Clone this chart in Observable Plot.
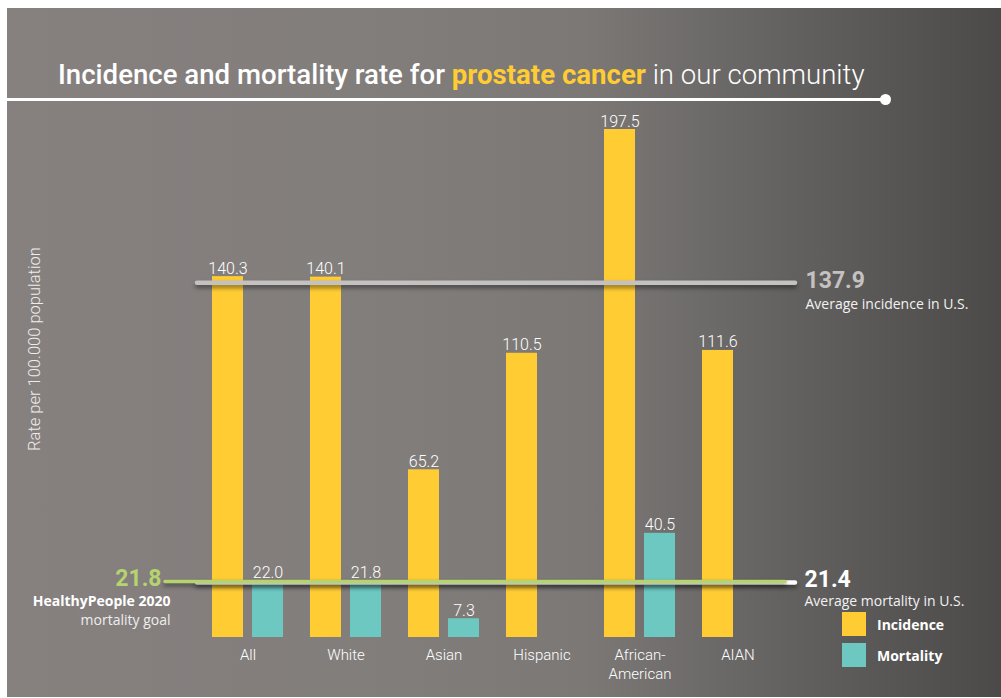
<!DOCTYPE html>
<html>
<head>
<meta charset="utf-8">
<script src="https://cdn.jsdelivr.net/npm/d3@7"></script>
<script src="https://cdn.jsdelivr.net/npm/@observablehq/plot@0.6"></script>
<style>
  html, body { margin: 0; padding: 0; background: #fff; }
  #root { position: relative; width: 1001px; height: 698px; overflow: hidden; background: #fff; font-family: Roboto, sans-serif; }
  #panel { position: absolute; left: 7px; top: 8px; width: 994px; height: 689px;
    background: linear-gradient(to right, #86807f 0%, #827e7c 35%, #7b7876 58%, #4b4a49 100%); }
  #title { position: absolute; left: 58px; top: 61px; font-size: 27.6px; line-height: 27px; color: #fff; white-space: nowrap; }
  #title .a { font-weight: 500; }
  #title .b { font-weight: 700; color: #FFCC33; }
  #title .c { font-weight: 300; }
  #underline { position: absolute; left: 7px; top: 98px; width: 878px; height: 2.5px; background: #fff; }
  #dot { position: absolute; left: 880px; top: 94px; width: 11px; height: 11px; border-radius: 50%; background: #fff; }
  #ylabel { position: absolute; left: 34px; top: 349px; transform: translate(-50%, -50%) rotate(-90deg);
    font-family: Roboto, sans-serif; font-weight: 300; font-size: 16.5px; color: #eeeceb; white-space: nowrap; }
  .plot { position: absolute; left: 0; top: 0; }
  #refs g[aria-label="rule"] { filter: drop-shadow(0px 3px 2px rgba(0,0,0,0.45)); }
  #legend { position: absolute; left: 842px; top: 612px; font-family: "Open Sans", sans-serif; font-weight: 700; font-size: 14px; color: #fff; }
  #legend .item { display: flex; align-items: center; height: 24px; margin-bottom: 7px; }
  #legend .sw { width: 24px; height: 24px; margin-right: 11px; }
</style>
</head>
<body>
<div id="root">
  <div id="panel"></div>
  <div id="title"><span class="a">Incidence and mortality rate for </span><span class="b">prostate cancer</span><span class="c"> in our community</span></div>
  <div id="underline"></div>
  <div id="dot"></div>
  <div id="ylabel">Rate per 100.000 population</div>
  <div id="legend"></div>
</div>
<script>
// ---- data ----
const categories = ["All", "White", "Asian", "Hispanic", "African-American", "AIAN"];
const incidence  = [140.3, 140.1, 65.2, 110.5, 197.5, 111.6];
const mortality  = [22.0, 21.8, 7.3, null, 40.5, null];
const series     = ["Incidence", "Mortality"];
const seriesColors = ["#FFCC33", "#6DC8C2"];
const usIncidence = 137.9;
const usMortality = 21.4;
const goalMortality = 21.8;
const yMax = 197.5;

const rows = [];
categories.forEach((c, i) => {
  if (incidence[i] != null) rows.push({category: c, series: "Incidence", value: incidence[i]});
  if (mortality[i] != null) rows.push({category: c, series: "Mortality", value: mortality[i]});
});

const root = document.getElementById("root");

// ---- bars ----
const main = Plot.plot({
  width: 1001, height: 698,
  marginLeft: 211, marginRight: 227, marginTop: 129, marginBottom: 61,
  style: {background: "transparent", color: "#fff", fontFamily: "Roboto, sans-serif", fontSize: "15px", overflow: "visible"},
  fx: {domain: categories, paddingInner: 0.2785, paddingOuter: 0, label: null},
  x: {domain: series, paddingInner: 0.225, paddingOuter: 0, axis: null},
  y: {domain: [0, yMax], axis: null},
  color: {domain: series, range: seriesColors},
  marks: [
    Plot.barY(rows, {fx: "category", x: "series", y: "value", fill: "series"}),
    Plot.text(rows, {fx: "category", x: "series", y: "value", text: d => d.value.toFixed(1),
      lineAnchor: "bottom", dy: -3, fill: "#fff", fontSize: 16, fontWeight: 300}),
    Plot.axisFx({anchor: "bottom", tickSize: 0, tickPadding: 9, label: null, lineHeight: 1.25,
      tickFormat: d => d.replace("-", "-\n"), fontSize: 15, fontWeight: 300, fill: "#fff"})
  ]
});
main.classList.add("plot");
root.appendChild(main);

// ---- reference lines ----
const refs = Plot.plot({
  width: 1001, height: 698,
  marginLeft: 197, marginRight: 206, marginTop: 129, marginBottom: 61,
  style: {background: "transparent", overflow: "visible"},
  y: {domain: [0, yMax], axis: null},
  marks: [
    Plot.ruleY([usIncidence], {stroke: "#c4c2c1", strokeWidth: 4.5, strokeLinecap: "round"}),
    Plot.ruleY([usMortality], {stroke: "#ffffff", strokeWidth: 4.5, strokeLinecap: "round"}),
    Plot.ruleY([goalMortality], {stroke: "#b5d36e", strokeWidth: 3.5, strokeLinecap: "round", insetLeft: -32, insetRight: 10}),
    // right labels
    Plot.text([usIncidence], {y: d => d, frameAnchor: "right", dx: 10, dy: -2, textAnchor: "start",
      text: d => d.toFixed(1), fill: "#c4c2c1", fontSize: 23, fontWeight: 700, fontFamily: "Roboto, sans-serif"}),
    Plot.text([usIncidence], {y: d => d, frameAnchor: "right", dx: 10, dy: 22, textAnchor: "start",
      text: () => "Average incidence in U.S.", fill: "#f2f2f2", fontSize: 14, fontFamily: "Open Sans, sans-serif"}),
    Plot.text([usMortality], {y: d => d, frameAnchor: "right", dx: 9, dy: -3, textAnchor: "start",
      text: d => d.toFixed(1), fill: "#ffffff", fontSize: 23, fontWeight: 700, fontFamily: "Roboto, sans-serif"}),
    Plot.text([usMortality], {y: d => d, frameAnchor: "right", dx: 9, dy: 19, textAnchor: "start",
      text: () => "Average mortality in U.S.", fill: "#f2f2f2", fontSize: 14, fontFamily: "Open Sans, sans-serif"}),
    // left labels (goal)
    Plot.text([goalMortality], {y: d => d, frameAnchor: "left", dx: -36, dy: -3, textAnchor: "end",
      text: d => d.toFixed(1), fill: "#b5d36e", fontSize: 23, fontWeight: 700, fontFamily: "Roboto, sans-serif"}),
    Plot.text([goalMortality], {y: d => d, frameAnchor: "left", dx: -27, dy: 20, textAnchor: "end",
      text: () => "HealthyPeople 2020", fill: "#ffffff", fontSize: 14, fontWeight: 700, fontFamily: "Open Sans, sans-serif"}),
    Plot.text([goalMortality], {y: d => d, frameAnchor: "left", dx: -27, dy: 39, textAnchor: "end",
      text: () => "mortality goal", fill: "#eeeeee", fontSize: 14, fontFamily: "Open Sans, sans-serif"})
  ]
});
refs.classList.add("plot");
refs.id = "refs";
root.appendChild(refs);

// ---- legend ----
const legend = document.getElementById("legend");
root.appendChild(legend);
series.forEach((s, i) => {
  const item = document.createElement("div");
  item.className = "item";
  const sw = document.createElement("div");
  sw.className = "sw";
  sw.style.background = seriesColors[i];
  const lb = document.createElement("span");
  lb.textContent = s;
  item.appendChild(sw); item.appendChild(lb);
  legend.appendChild(item);
});
</script>
</body>
</html>
